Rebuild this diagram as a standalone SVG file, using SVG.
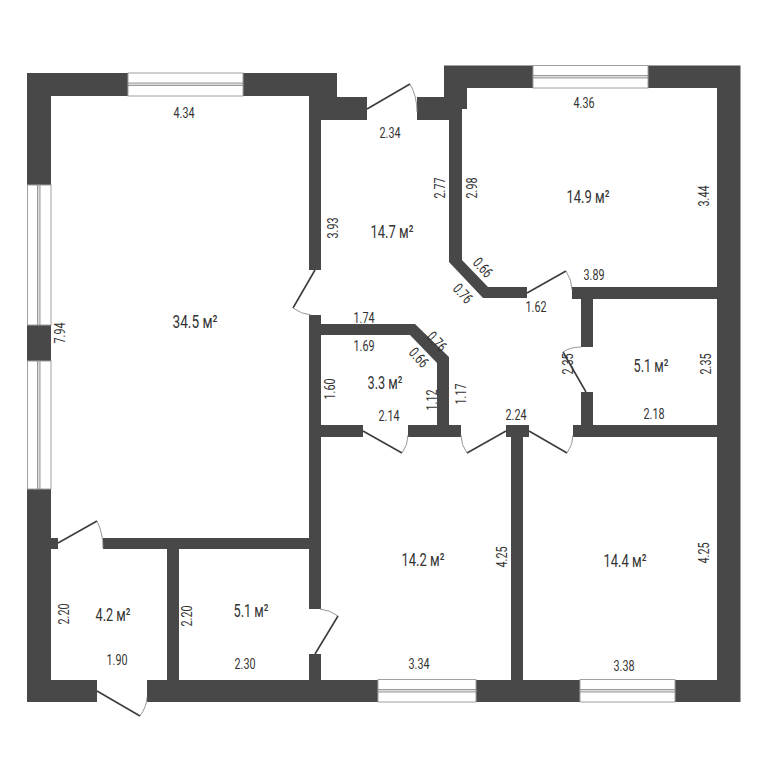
<svg xmlns="http://www.w3.org/2000/svg" width="768" height="768" viewBox="0 0 768 768">
<style>
.w{fill:#484848}
.d{fill:none;stroke:#3c3c3c;stroke-width:1.6}
.a{fill:none;stroke:#8a8a8a;stroke-width:.9}
.g{fill:#fff;stroke:#a0a0a0;stroke-width:1}
.m{fill:#ddd;stroke:#858585;stroke-width:.8}
text{font-family:"Roboto",sans-serif;fill:#333;text-anchor:middle;font-size:15px;font-weight:400}
.r{font-size:18px}
</style>
<rect width="768" height="768" fill="#fff"/>
<g id="walls">
<path class="w" d="M27 73H337V97H367V120H321V270H309V96H51V538H58V549H51V680H97V702H27Z"/>
<path class="w" d="M417 97H444V65.500H740.500V702H147V680H167V549H103V538H309V315H321V324H415L449 357V425H461V437H408V425H437V363L410 335H321V425H363V437H321V609H309V549H179V680H309V654H321V680H511V437H506V425H529V437H523V680H717V437H573V425H581V392H593V425H717V299H593V347H581V299H572V287H717V88H467V109H462V260L488 287H527V298H483L449 262V120H417Z"/>
</g>
<g id="windows">
<rect class="g" x="128" y="73" width="115" height="23"/><rect class="m" x="128" y="83" width="115" height="2.500"/>
<rect class="g" x="533" y="65.500" width="115" height="22.500"/><rect class="m" x="533" y="75.500" width="115" height="2.500"/>
<rect class="g" x="378" y="679.500" width="98" height="22.500"/><rect class="m" x="378" y="689.500" width="98" height="2.500"/>
<rect class="g" x="580" y="679.500" width="95" height="22.500"/><rect class="m" x="580" y="689.500" width="95" height="2.500"/>
<rect class="g" x="27.500" y="185" width="23.500" height="140"/><rect class="m" x="37.500" y="185" width="2.500" height="140"/>
<rect class="g" x="27.500" y="361" width="23.500" height="128"/><rect class="m" x="37.500" y="361" width="2.500" height="128"/>
</g>
<g id="connectors">
<path class="d" d="M367 109L410 84"/><path class="a" d="M410 84Q417 96 417 112"/>
<path class="d" d="M315 270L293 308"/><path class="a" d="M293 308Q301 314 311 315"/>
<path class="d" d="M527 293L566 271"/><path class="a" d="M566 271Q572 280 572 290"/>
<path class="d" d="M586 392L563 352"/><path class="a" d="M563 352Q570 347 581 347"/>
<path class="d" d="M363 431L402 453"/><path class="a" d="M402 453Q408 445 408 435"/>
<path class="d" d="M506 431L467 453"/><path class="a" d="M467 453Q461 445 461 435"/>
<path class="d" d="M529 431L567 453"/><path class="a" d="M567 453Q573 445 573 435"/>
<path class="d" d="M58 543L97 521"/><path class="a" d="M97 521Q103 533 103 548"/>
<path class="d" d="M315 654L338 616"/><path class="a" d="M338 616Q330 610 320 609"/>
<path class="d" d="M97 691L140 716"/><path class="a" d="M140 716Q147 706 147 697"/>
</g>
<g id="room-living"><text class="r" x="195" y="328" textLength="45" lengthAdjust="spacingAndGlyphs">34.5 м²</text></g>
<g id="room-hall"><text class="r" x="392" y="238" textLength="43" lengthAdjust="spacingAndGlyphs">14.7 м²</text></g>
<g id="room-bed1"><text class="r" x="588" y="203" textLength="43" lengthAdjust="spacingAndGlyphs">14.9 м²</text></g>
<g id="room-store"><text class="r" x="651" y="372" textLength="35" lengthAdjust="spacingAndGlyphs">5.1 м²</text></g>
<g id="room-closet"><text class="r" x="385" y="389" textLength="35" lengthAdjust="spacingAndGlyphs">3.3 м²</text></g>
<g id="room-bed2"><text class="r" x="423" y="566" textLength="43" lengthAdjust="spacingAndGlyphs">14.2 м²</text></g>
<g id="room-bed3"><text class="r" x="625" y="567" textLength="43" lengthAdjust="spacingAndGlyphs">14.4 м²</text></g>
<g id="room-entry"><text class="r" x="113" y="621" textLength="35" lengthAdjust="spacingAndGlyphs">4.2 м²</text></g>
<g id="room-bath"><text class="r" x="251" y="617" textLength="35" lengthAdjust="spacingAndGlyphs">5.1 м²</text></g>
<g id="labels">
<text x="184" y="118" textLength="21" lengthAdjust="spacingAndGlyphs">4.34</text>
<text x="390" y="138" textLength="21" lengthAdjust="spacingAndGlyphs">2.34</text>
<text x="584" y="108" textLength="21" lengthAdjust="spacingAndGlyphs">4.36</text>
<text x="594" y="280" textLength="21" lengthAdjust="spacingAndGlyphs">3.89</text>
<text x="536" y="312" textLength="21" lengthAdjust="spacingAndGlyphs">1.62</text>
<text x="364" y="323" textLength="21" lengthAdjust="spacingAndGlyphs">1.74</text>
<text x="364" y="351" textLength="21" lengthAdjust="spacingAndGlyphs">1.69</text>
<text x="389" y="421" textLength="21" lengthAdjust="spacingAndGlyphs">2.14</text>
<text x="516" y="420" textLength="21" lengthAdjust="spacingAndGlyphs">2.24</text>
<text x="654" y="419" textLength="21" lengthAdjust="spacingAndGlyphs">2.18</text>
<text x="419" y="669" textLength="21" lengthAdjust="spacingAndGlyphs">3.34</text>
<text x="624" y="671" textLength="21" lengthAdjust="spacingAndGlyphs">3.38</text>
<text x="245" y="669" textLength="21" lengthAdjust="spacingAndGlyphs">2.30</text>
<text x="117" y="665" textLength="21" lengthAdjust="spacingAndGlyphs">1.90</text>
<text transform="translate(65 333) rotate(-90)" textLength="21" lengthAdjust="spacingAndGlyphs">7.94</text>
<text transform="translate(338 228) rotate(-90)" textLength="21" lengthAdjust="spacingAndGlyphs">3.93</text>
<text transform="translate(445 188) rotate(-90)" textLength="21" lengthAdjust="spacingAndGlyphs">2.77</text>
<text transform="translate(477 188) rotate(-90)" textLength="21" lengthAdjust="spacingAndGlyphs">2.98</text>
<text transform="translate(709 196) rotate(-90)" textLength="21" lengthAdjust="spacingAndGlyphs">3.44</text>
<text transform="translate(711 364) rotate(-90)" textLength="21" lengthAdjust="spacingAndGlyphs">2.35</text>
<text transform="translate(573 364) rotate(-90)" textLength="21" lengthAdjust="spacingAndGlyphs">2.35</text>
<text transform="translate(335 389) rotate(-90)" textLength="21" lengthAdjust="spacingAndGlyphs">1.60</text>
<text transform="translate(437 400) rotate(-90)" textLength="21" lengthAdjust="spacingAndGlyphs">1.12</text>
<text transform="translate(466 394) rotate(-90)" textLength="21" lengthAdjust="spacingAndGlyphs">1.17</text>
<text transform="translate(507 557) rotate(-90)" textLength="21" lengthAdjust="spacingAndGlyphs">4.25</text>
<text transform="translate(709 553) rotate(-90)" textLength="21" lengthAdjust="spacingAndGlyphs">4.25</text>
<text transform="translate(69 614) rotate(-90)" textLength="21" lengthAdjust="spacingAndGlyphs">2.20</text>
<text transform="translate(192 616) rotate(-90)" textLength="21" lengthAdjust="spacingAndGlyphs">2.20</text>
<text transform="translate(479 271) rotate(48)" textLength="21" lengthAdjust="spacingAndGlyphs">0.66</text>
<text transform="translate(459 297) rotate(48)" textLength="21" lengthAdjust="spacingAndGlyphs">0.76</text>
<text transform="translate(433 345) rotate(48)" textLength="21" lengthAdjust="spacingAndGlyphs">0.76</text>
<text transform="translate(415 361) rotate(48)" textLength="21" lengthAdjust="spacingAndGlyphs">0.66</text>
</g>
</svg>
